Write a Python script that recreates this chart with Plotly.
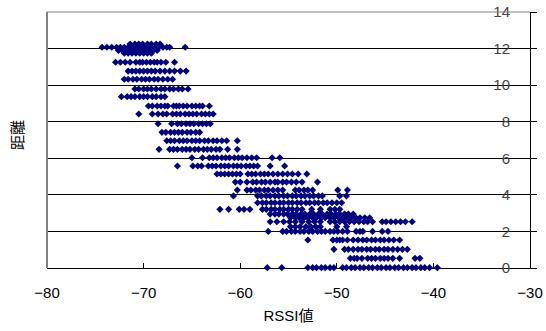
import plotly.graph_objects as go

# Distance levels (y) and RSSI readings (x) observed at each level
distance_levels = [12.07, 12.25, 11.9, 11.75, 11.25, 10.77, 10.32, 9.79, 9.37, 8.86, 8.42,
                   7.89, 7.42, 6.96, 6.49, 6.03, 5.58, 5.14, 4.70, 4.26, 3.94, 3.57,
                   3.21, 2.95, 2.75, 2.53, 2.26, 2.0, 1.53, 1.02, 0.53, 0.02]

rssi_by_level = [
    [-74.3, -73.8, -73.3, -72.8, -72.4, -72.0, -71.6, -71.2, -70.8, -70.4, -70.0, -69.6, -69.2, -68.8, -68.4, -68.0, -67.6, -67.3, -65.7],
    [-71.4, -70.9, -70.5, -70.1, -69.6, -69.2, -68.7, -68.3],
    [-72.6, -72.2, -71.8, -71.4, -71.0, -70.6, -70.2, -69.8, -69.4, -69.0, -68.6],
    [-72.0, -71.6, -71.2, -70.8, -70.4, -70.0, -69.6, -69.2],
    [-72.9, -72.4, -71.9, -71.4, -70.8, -70.4, -70.1, -69.7, -69.3, -68.9, -68.6, -68.2, -67.7, -66.8],
    [-71.6, -71.2, -70.8, -70.4, -70.0, -69.6, -69.2, -68.8, -68.3, -67.8, -67.3, -66.8, -66.2, -65.6],
    [-72.0, -71.6, -71.1, -70.7, -70.2, -69.8, -69.4, -68.9, -68.5, -68.0, -67.5, -67.0],
    [-70.9, -70.5, -70.0, -69.6, -69.2, -68.7, -68.2, -67.8, -67.3, -66.9, -66.4, -66.0, -65.4],
    [-72.3, -71.7, -71.3, -70.9, -70.4, -70.0, -69.6, -69.1, -68.7, -68.2, -67.8],
    [-69.5, -69.1, -68.6, -68.2, -67.8, -67.5, -66.9, -66.6, -66.3, -65.9, -65.5, -65.0, -64.6, -64.2, -63.9, -63.2],
    [-70.5, -69.1, -68.5, -68.0, -67.6, -67.0, -66.6, -66.2, -65.7, -65.3, -64.9, -64.5, -64.0, -63.6, -63.2, -62.8],
    [-68.5, -67.1, -66.5, -66.1, -65.6, -65.2, -64.8, -64.3, -63.9, -63.5, -63.1],
    [-68.1, -67.7, -67.2, -66.8, -66.4, -66.0, -65.5, -65.1, -64.6, -64.2],
    [-67.6, -67.2, -66.8, -66.3, -65.9, -65.5, -65.0, -64.6, -64.2, -63.7, -63.3, -62.8, -62.4, -61.9, -61.4, -60.3],
    [-68.4, -67.3, -66.9, -66.5, -66.0, -65.6, -65.2, -64.7, -64.3, -63.8, -63.4, -63.0, -62.5, -62.1, -61.3, -60.3],
    [-65.0, -63.9, -63.2, -62.8, -62.4, -61.9, -61.5, -61.1, -60.6, -60.2, -59.8, -59.3, -58.8, -58.3, -56.7, -55.9],
    [-66.5, -64.9, -64.4, -64.0, -63.3, -62.9, -62.5, -62.0, -61.6, -61.2, -60.7, -60.3, -59.9, -59.4, -59.0, -58.6, -58.2, -56.9, -55.4],
    [-62.4, -62.0, -61.6, -61.2, -60.8, -60.4, -60.0, -59.2, -58.8, -58.4, -57.9, -57.5, -57.1, -56.6, -56.1, -55.6, -55.1, -54.6, -54.0, -53.1],
    [-60.5, -60.0, -59.3, -58.7, -58.3, -57.8, -57.4, -56.9, -56.4, -56.1, -55.6, -55.2, -54.7, -54.2, -53.6, -52.0],
    [-60.3, -59.3, -58.9, -58.4, -58.0, -57.5, -57.1, -56.6, -56.1, -55.6, -54.3, -53.9, -53.4, -53.0, -52.5, -49.9, -48.9],
    [-60.7, -58.2, -57.8, -57.3, -56.9, -56.4, -56.0, -55.5, -55.1, -54.6, -54.2, -53.7, -53.3, -52.8, -52.4, -51.9, -51.5, -49.7, -49.0],
    [-58.2, -57.7, -57.3, -56.8, -56.4, -55.9, -55.5, -55.0, -54.6, -54.1, -53.7, -53.2, -52.8, -52.3, -51.9, -51.4, -51.0, -50.5, -50.0, -49.5],
    [-62.1, -61.2, -60.1, -59.6, -59.0, -57.7, -57.3, -56.8, -56.4, -55.9, -55.5, -55.0, -54.6, -54.1, -53.6, -52.6, -51.7, -50.7, -50.2, -49.7],
    [-56.9, -56.4, -56.0, -55.5, -55.1, -54.6, -54.2, -53.7, -53.3, -52.8, -52.4, -51.9, -51.5, -51.0, -50.6, -50.1, -49.7, -49.2, -48.8, -48.3],
    [-54.8, -54.3, -53.9, -53.4, -53.0, -52.5, -52.1, -51.6, -51.2, -50.7, -50.3, -49.8, -49.4, -48.9, -48.5, -48.0, -47.6, -47.1, -46.6],
    [-56.9, -56.2, -55.5, -54.9, -54.3, -53.6, -52.9, -52.3, -51.7, -50.7, -50.2, -49.7, -49.2, -48.7, -48.2, -47.7, -47.2, -46.8, -46.3, -45.3, -44.9, -44.4, -43.9, -43.4, -42.9, -42.2],
    [-54.8, -54.3, -53.8, -53.2, -52.7, -52.2, -51.7, -50.0, -49.0],
    [-57.1, -55.6, -55.2, -54.7, -54.3, -53.8, -53.4, -52.9, -52.5, -52.0, -51.6, -51.2, -50.7, -50.3, -49.9, -49.4, -48.9, -48.0, -47.6, -47.3, -46.3, -45.3, -44.7],
    [-53.0, -50.4, -50.0, -49.7, -49.4, -48.9, -48.3, -47.8, -47.3, -46.9, -46.4, -46.0, -45.5, -45.1, -44.6, -44.1, -43.5],
    [-50.3, -49.2, -48.8, -48.3, -47.8, -47.4, -46.9, -46.5, -46.0, -45.6, -45.1, -44.7, -44.2, -43.7, -43.2, -42.7],
    [-48.6, -48.2, -47.9, -47.4, -46.8, -46.4, -46.0, -45.5, -45.1, -44.7, -44.2, -43.5, -41.9, -41.4],
    [-57.2, -55.7, -53.0, -52.5, -52.1, -51.6, -51.2, -50.7, -50.3, -49.4, -49.0, -48.5, -48.1, -47.6, -47.2, -46.7, -46.3, -45.8, -45.4, -44.9, -44.5, -44.0, -43.6, -43.1, -42.7, -42.2, -41.8, -41.3, -40.9, -40.4, -39.6],
]

x_ticks = [-80, -70, -60, -50, -40, -30]
y_ticks = [0, 2, 4, 6, 8, 10, 12, 14]
x_title = "RSSI値"
y_title = "距離"

xs, ys = [], []
for lvl, row in zip(distance_levels, rssi_by_level):
    for v in row:
        xs.append(v)
        ys.append(lvl)

FONT = "Liberation Sans, Arial, Noto Sans CJK JP, sans-serif"

fig = go.Figure(go.Scatter(
    x=xs, y=ys, mode="markers",
    marker=dict(symbol="diamond", size=5.5, color="#000080", line=dict(width=0)),
    cliponaxis=False, showlegend=False, hoverinfo="skip",
))

fig.update_layout(
    width=546, height=331,
    margin=dict(l=47, r=16, t=12, b=63),
    paper_bgcolor="white", plot_bgcolor="white",
    font=dict(family=FONT, size=15, color="black"),
    xaxis=dict(
        range=[-80, -30], tickvals=x_ticks, ticks="inside", ticklen=5, tickcolor="black",
        showline=True, linecolor="black", linewidth=1, showgrid=False, zeroline=False,
        ticklabelstandoff=11, layer="below traces", automargin=False,
        title=dict(text=x_title, font=dict(size=15), standoff=10),
    ),
    yaxis=dict(
        range=[0, 14], tickvals=y_ticks, side="right", ticks="outside", ticklen=6,
        tickcolor="black", ticklabelposition="inside", ticklabelstandoff=20,
        ticklabeloverflow="allow", automargin=False,
        showline=True, linecolor="black", linewidth=1,
        showgrid=True, gridcolor="black", gridwidth=1, zeroline=False,
        layer="below traces",
    ),
    shapes=[
        dict(type="line", xref="paper", yref="paper", x0=0, x1=1, y0=1, y1=1,
             line=dict(color="#808080", width=1)),
        dict(type="line", xref="paper", yref="paper", x0=0, x1=0, y0=0, y1=1,
             line=dict(color="#808080", width=2)),
    ],
    annotations=[
        dict(text=y_title, xref="paper", yref="paper", x=-0.06, y=0.52,
             showarrow=False, textangle=-90, font=dict(size=15),
             xanchor="center", yanchor="middle"),
    ],
)

fig.write_html("out.html", config={"displayModeBar": False},
               post_script="document.body.style.margin='0';")
